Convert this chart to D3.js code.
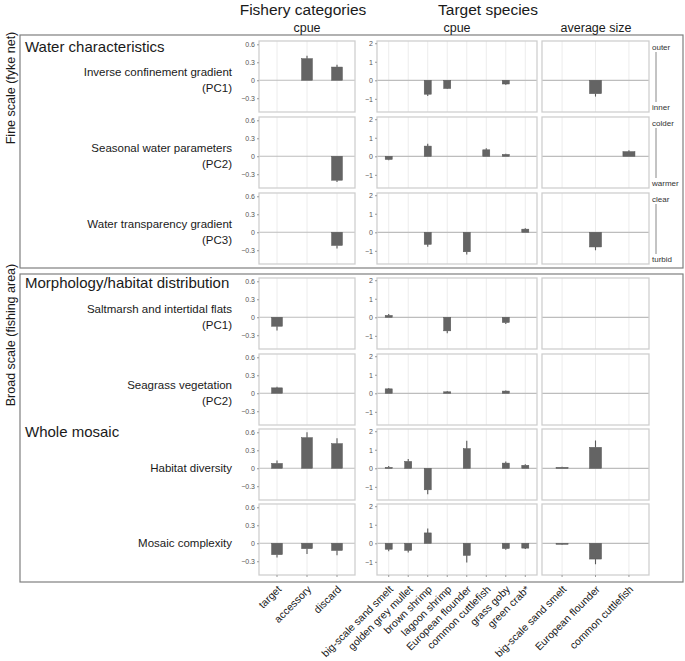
<!DOCTYPE html>
<html><head><meta charset="utf-8">
<script src="https://cdn.jsdelivr.net/npm/d3@7"></script>
<style>body{margin:0;background:#fff}svg{display:block;font-family:"Liberation Sans",Arial,sans-serif}</style>
</head><body><svg id="c" width="685" height="661"></svg>
<script>
// ---- data ----
const fisheryCats = ["target","accessory","discard"];
const speciesCats = ["big-scale sand smelt","golden grey mullet","brown shrimp","lagoon shrimp","European flounder","common cuttlefish","grass goby","green crab*"];
const sizeCats = ["big-scale sand smelt","European flounder","common cuttlefish"];
const predictors = [["Inverse confinement gradient","(PC1)"],["Seasonal water parameters","(PC2)"],["Water transparency gradient","(PC3)"],["Saltmarsh and intertidal flats","(PC1)"],["Seagrass vegetation","(PC2)"],["Habitat diversity"],["Mosaic complexity"]];
const groupTitles = ["Water characteristics","Morphology/habitat distribution","Whole mosaic"];
const scaleTitles = ["Fine scale (fyke net)","Broad scale (fishing area)"];
const gradientEnds = [["outer","inner"],["colder","warmer"],["clear","turbid"]];
const fisheryTicks = [0.6,0.3,0,-0.3];
const speciesTicks = [2,1,0,-1];

const fisheryCpue = [
 [null,0.36,0.22],[null,null,-0.40],[null,null,-0.22],[-0.15,null,null],[0.09,null,null],[0.08,0.51,0.41],[-0.19,-0.09,-0.12]];
const fisheryErr = [
 [null,0.41,0.26],[null,null,-0.43],[null,null,-0.27],[-0.22,null,null],[0.11,null,null],[0.13,0.60,0.50],[-0.24,-0.18,-0.20]];
const speciesCpue = [
 [null,null,-0.75,-0.44,null,null,-0.20,null],
 [-0.17,null,0.55,null,null,0.35,0.10,null],
 [null,null,-0.65,null,-1.05,null,null,0.17],
 [0.10,null,null,-0.73,null,null,-0.28,null],
 [0.24,null,null,0.08,null,null,0.12,null],
 [0.05,0.37,-1.16,null,1.06,null,0.28,0.16],
 [-0.32,-0.38,0.56,null,-0.65,null,-0.28,-0.26]];
const speciesErr = [
 [null,null,-0.85,-0.47,null,null,-0.24,null],
 [-0.21,null,0.68,null,null,0.43,0.14,null],
 [null,null,-0.78,null,-1.20,null,null,0.22],
 [0.18,null,null,-0.86,null,null,-0.36,null],
 [0.28,null,null,0.13,null,null,0.15,null],
 [0.13,0.50,-1.40,null,1.49,null,0.37,0.22],
 [-0.43,-0.50,0.80,null,-1.03,null,-0.35,-0.31]];
const sizeAvg = [
 [null,-0.72,null],[null,null,0.25],[null,-0.79,null],[null,null,null],[null,null,null],[0.05,1.13,null],[-0.04,-0.85,null]];
const sizeErr = [
 [null,-0.88,null],[null,null,0.33],[null,-0.97,null],[null,null,null],[null,null,null],[0.08,1.50,null],[-0.06,-1.13,null]];

// ---- layout ----
const svg = d3.select("#c");
const rowTops = [41,117,193,278,354,429,504];
const panelH = 71;
const cols = [
  {x0:259,x1:355,cats:fisheryCats,vals:fisheryCpue,errs:fisheryErr,dom:[-0.53,0.655],ticks:fisheryTicks},
  {x0:377,x1:537,cats:speciesCats,vals:speciesCpue,errs:speciesErr,dom:[-1.71,2.12],ticks:speciesTicks},
  {x0:542,x1:649,cats:sizeCats,vals:sizeAvg,errs:sizeErr,dom:[-1.71,2.12],ticks:null}
];
const fmt = v => (v<0?"\u2212":"")+Math.abs(v);

// outer boxes
svg.append("rect").attr("x",20).attr("y",35).attr("width",663).attr("height",233).attr("fill","none").attr("stroke","#7f7f7f").attr("stroke-width",1.2);
svg.append("rect").attr("x",20).attr("y",274).attr("width",663).attr("height",308).attr("fill","none").attr("stroke","#7f7f7f").attr("stroke-width",1.2);

// headers
svg.append("text").attr("x",303).attr("y",15).attr("text-anchor","middle").attr("font-size",15.5).attr("fill","#1a1a1a").text("Fishery categories");
svg.append("text").attr("x",488).attr("y",15).attr("text-anchor","middle").attr("font-size",15.5).attr("fill","#1a1a1a").text("Target species");
[["cpue",307],["cpue",457],["average size",596]].forEach(([t,x])=>{
  svg.append("text").attr("x",x).attr("y",32).attr("text-anchor","middle").attr("font-size",12.5).attr("fill","#1a1a1a").text(t);
});

// left vertical labels
[[scaleTitles[0],10,88],[scaleTitles[1],10,335]].forEach(([t,x,y])=>{
  svg.append("text").attr("transform",`translate(${x+4.5},${y}) rotate(-90)`).attr("text-anchor","middle").attr("font-size",12.5).attr("fill","#1a1a1a").text(t);
});

// group titles
[[groupTitles[0],52],[groupTitles[1],288],[groupTitles[2],437]].forEach(([t,y])=>{
  svg.append("text").attr("x",25).attr("y",y).attr("font-size",15).attr("fill","#1a1a1a").text(t);
});

// panels
rowTops.forEach((top,r)=>{
  cols.forEach((c,ci)=>{
    const x = d3.scalePoint().domain(c.cats).range([c.x0,c.x1]).padding(0.6);
    const y = d3.scaleLinear().domain(c.dom).range([top+panelH,top]);
    const g = svg.append("g");
    g.selectAll("line.grid").data(c.cats).join("line").attr("x1",d=>x(d)).attr("x2",d=>x(d)).attr("y1",top).attr("y2",top+panelH).attr("stroke","#ececec").attr("stroke-width",1);
    g.append("line").attr("x1",c.x0).attr("x2",c.x1).attr("y1",y(0)).attr("y2",y(0)).attr("stroke","#bdbdbd").attr("stroke-width",1.2);
    const bw = x.step()*0.36;
    const items = c.cats.map((k,i)=>({k,v:c.vals[r][i],e:c.errs[r][i]})).filter(d=>d.v!==null);
    g.selectAll("line.err").data(items).join("line").attr("x1",d=>x(d.k)).attr("x2",d=>x(d.k)).attr("y1",d=>y(d.v)).attr("y2",d=>y(d.e)).attr("stroke","#5a5a5a").attr("stroke-width",1.1);
    g.selectAll("rect.bar").data(items).join("rect").attr("x",d=>x(d.k)-bw/2).attr("width",bw)
      .attr("y",d=>Math.min(y(d.v),y(0))).attr("height",d=>Math.max(1,Math.abs(y(d.v)-y(0))))
      .attr("fill","#646464").attr("stroke","#555").attr("stroke-width",0.5);
    g.append("rect").attr("x",c.x0).attr("y",top).attr("width",c.x1-c.x0).attr("height",panelH).attr("fill","none").attr("stroke","#cfcfcf").attr("stroke-width",1.3);
    if(c.ticks){
      const ax = d3.axisLeft(y).tickValues(c.ticks).tickSize(2).tickPadding(2).tickFormat(fmt);
      const a = g.append("g").attr("transform",`translate(${c.x0},0)`).call(ax);
      a.select(".domain").remove();
      a.selectAll("line").attr("stroke","#9a9a9a");
      a.selectAll("text").attr("font-size",7).attr("fill","#555").attr("font-family","Liberation Sans, Arial, sans-serif");
    }
    if(r===rowTops.length-1){
      g.selectAll("line.xt").data(c.cats).join("line").attr("x1",d=>x(d)).attr("x2",d=>x(d)).attr("y1",top+panelH).attr("y2",top+panelH+2).attr("stroke","#9a9a9a");
      g.selectAll("text.xl").data(c.cats).join("text")
        .attr("transform",d=>`translate(${x(d)+5},${590}) rotate(-45)`)
        .attr("text-anchor","end").attr("font-size",10.5).attr("fill","#1a1a1a").text(d=>d);
    }
  });
  const y0 = d3.scaleLinear().domain(cols[0].dom).range([top+panelH,top])(0);
  const lines = predictors[r];
  lines.forEach((t,li)=>{
    const off = lines.length===1?0:(li===0?-8:8);
    svg.append("text").attr("x",232).attr("y",y0+off+4).attr("text-anchor","end").attr("font-size",11.5).attr("fill","#1a1a1a").text(t);
  });
  if(r<3){
    const [a,b] = gradientEnds[r];
    svg.append("text").attr("x",652).attr("y",top+9).attr("font-size",8).attr("fill","#333").text(a);
    svg.append("text").attr("x",652).attr("y",top+69).attr("font-size",8).attr("fill","#333").text(b);
    svg.append("line").attr("x1",656).attr("x2",656).attr("y1",top+11).attr("y2",top+61).attr("stroke","#888").attr("stroke-width",1);
  }
});
</script></body></html>
